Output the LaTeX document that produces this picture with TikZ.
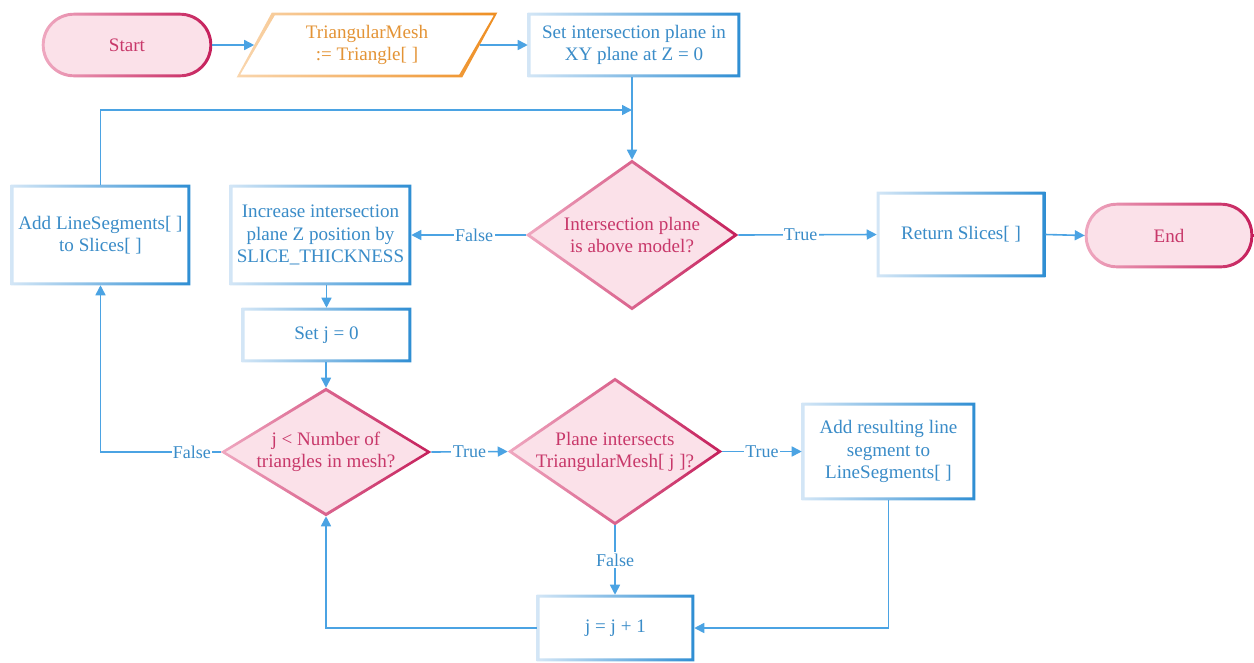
\documentclass[tikz,border=0pt]{standalone}
\usepackage{fontspec}
\setmainfont{Liberation Serif}
\usetikzlibrary{shapes.geometric,arrows.meta,calc}
\definecolor{lineblue}{HTML}{4BA3E3}
\definecolor{txtblue}{HTML}{3A8CC8}
\definecolor{boxlight}{HTML}{D3E6F6}
\definecolor{boxdark}{HTML}{2F8ED3}
\definecolor{pinkfill}{HTML}{FBE1E9}
\definecolor{pinklight}{HTML}{EFA8C0}
\definecolor{pinkdark}{HTML}{C51F5B}
\definecolor{pinktxt}{HTML}{C8386A}
\definecolor{orgtxt}{HTML}{E39335}
\definecolor{orglight}{HTML}{F9D6AE}
\definecolor{orgdark}{HTML}{EE8E22}
\newcommand\rectframe[1]{%
  \shade[left color=boxlight,right color=boxdark,even odd rule]
  (#1.south west) rectangle (#1.north east)
  ([shift={(2.2pt,2.2pt)}]#1.south west) rectangle ([shift={(-2.2pt,-2.2pt)}]#1.north east);}
\newcommand\diaframe[1]{%
  \shade[left color=pinklight,right color=pinkdark,even odd rule]
  (#1.north)--(#1.east)--(#1.south)--(#1.west)--cycle
  ([yshift=-2.6pt]#1.north)--([xshift=-3.6pt]#1.east)--([yshift=2.6pt]#1.south)--([xshift=3.6pt]#1.west)--cycle;}
\newcommand\termframe[1]{%
  \shade[left color=pinklight,right color=pinkdark,even odd rule]
  [rounded corners=24pt] (#1.south west) rectangle (#1.north east)
  [rounded corners=21.8pt] ([shift={(2.2pt,2.2pt)}]#1.south west) rectangle ([shift={(-2.2pt,-2.2pt)}]#1.north east);}
\tikzset{
  basefont/.style={font=\fontsize{14.3}{16.6}\selectfont, align=center, inner sep=0pt},
  proc/.style={basefont, rectangle, fill=white, text=txtblue},
  term/.style={basefont, rectangle, rounded corners=24pt, fill=pinkfill, text=pinktxt, minimum width=127.5pt, minimum height=48pt},
  decis/.style={diamond, fill=pinkfill, inner sep=0pt},
  decistext/.style={basefont, text=pinktxt},
  conn/.style={draw=lineblue, line width=1.2pt},
  arr/.style={conn, -{Triangle[length=7.5pt,width=7.5pt]}},
  lbl/.style={font=\fontsize{13.5}{15}\selectfont, text=txtblue, fill=white, inner sep=1pt},
}
\begin{document}
\begin{tikzpicture}[x=0.75pt,y=-0.75pt]
\useasboundingbox (0,0) rectangle (1254,662);
% nodes
\node[term] (start) at (127,45) {Start};
\node[basefont, text=orgtxt, minimum width=195pt, minimum height=48pt] (para) at (367,45) {TriangularMesh\\:= Triangle[ ]};
\node[proc, minimum width=159pt, minimum height=48pt] (setp) at (634,45) {Set intersection plane in\\XY plane at Z = 0};
\node[decis, minimum width=159pt, minimum height=112.5pt] (d1) at (632,235) {};
\node[decistext] (d1t) at (d1.center) {Intersection plane\\is above model?};
\node[proc, minimum width=126pt, minimum height=63.75pt] (ret) at (961,234.5) {Return Slices[ ]};
\node[term, minimum width=126pt, minimum height=48.75pt] (endn) at (1169,235.5) {End};
\node[proc, minimum width=135.75pt, minimum height=75pt] (inc) at (320.5,235) {Increase intersection\\plane Z position by\\SLICE\_THICKNESS};
\node[proc, minimum width=134.25pt, minimum height=75pt] (addls) at (100.5,235) {Add LineSegments[ ]\\to Slices[ ]};
\node[proc, minimum width=126.75pt, minimum height=40.5pt] (setj) at (326.5,335) {Set j = 0};
\node[decis, minimum width=157.5pt, minimum height=96pt] (d2) at (326,452) {};
\node[decistext] (d2t) at (d2.center) {j \textless{} Number of\\triangles in mesh?};
\node[decis, minimum width=160.5pt, minimum height=110.25pt] (d3) at (615,451.5) {};
\node[decistext] (d3t) at (d3.center) {Plane intersects\\TriangularMesh[ j ]?};
\node[proc, minimum width=129.75pt, minimum height=72.75pt] (addres) at (888.5,451.5) {Add resulting line\\segment to\\LineSegments[ ]};
\node[proc, minimum width=117.75pt, minimum height=49.5pt] (jj) at (615.5,628) {j = j + 1};
% frames
\termframe{start}
\termframe{endn}
\shade[left color=orglight,right color=orgdark,even odd rule]
  ([xshift=26.25pt]para.north west) -- (para.north east) -- ([xshift=-26.25pt]para.south east) -- (para.south west) -- cycle
  ([shift={(28.5pt,-2pt)}]para.north west) -- ([shift={(-2.6pt,-2pt)}]para.north east) -- ([shift={(-28.5pt,2pt)}]para.south east) -- ([shift={(2.6pt,2pt)}]para.south west) -- cycle;
\rectframe{setp}
\rectframe{ret}
\rectframe{inc}
\rectframe{addls}
\rectframe{setj}
\rectframe{addres}
\rectframe{jj}
\diaframe{d1}
\diaframe{d2}
\diaframe{d3}
% connectors
\coordinate (m) at (632,110);
\draw[arr] (start.east) -- ([xshift=13.1pt]para.west);
\draw[arr] ([xshift=-13.1pt]para.east) -- (setp.west);
\draw[conn] (setp.south -| m) -- (m);
\draw[arr] (m) -- (d1.north);
\draw[arr] (addls.north) |- (m);
\draw[arr] (d1.east) -- node[lbl, pos=0.45] {True} (ret.west);
\draw[arr] (ret.east) -- (endn.west);
\draw[arr] (d1.west) -- node[lbl, pos=0.45] {False} (inc.east);
\draw[arr] (setj.north |- inc.south) -- (setj.north);
\draw[arr] (setj.south -| d2.north) -- (d2.north);
\draw[arr] (d2.west) -| node[lbl, pos=0.12] {False} (addls.south);
\draw[arr] (d2.east) -- node[lbl] {True} (d3.west);
\draw[arr] (d3.east) -- node[lbl] {True} (addres.west);
\draw[arr] (addres.south) |- (jj.east);
\draw[arr] (d3.south) -- node[lbl] {False} (jj.north -| d3.south);
\draw[arr] (jj.west) -| (d2.south);
\end{tikzpicture}
\end{document}
